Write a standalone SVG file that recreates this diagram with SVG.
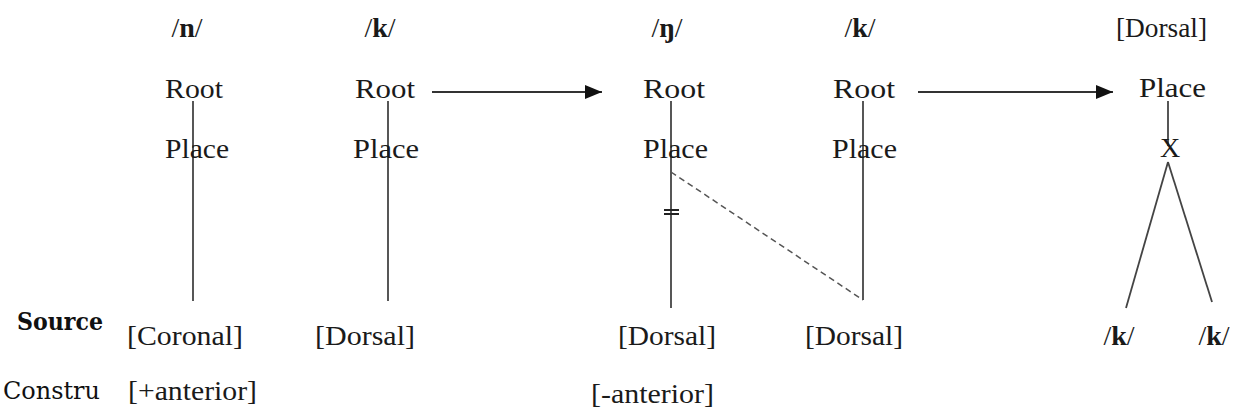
<svg xmlns="http://www.w3.org/2000/svg" width="1234" height="412" viewBox="0 0 1234 412">
  <style>
    .t { font-family: "Liberation Serif", "Times New Roman", serif; font-size: 28px; fill: #1a1a1a; }
    .c { text-anchor: middle; }
    .b { font-weight: bold; }
    .side { font-family: "DejaVu Serif", "Liberation Serif", serif; font-size: 25px; fill: #111; }
    .ln { stroke: #444; stroke-width: 1.8; fill: none; }
    .bar { stroke: #222; stroke-width: 2; fill: none; }
    .dash { stroke: #555; stroke-width: 1.5; stroke-dasharray: 6 4; fill: none; }
    .arr { stroke: #333; stroke-width: 2; fill: none; marker-end: url(#head); }
  </style>
  <defs>
    <marker id="head" markerUnits="userSpaceOnUse" markerWidth="18" markerHeight="16" refX="17" refY="7" orient="auto">
      <path d="M0,0 L17,7 L0,14 Z" fill="#111"/>
    </marker>
  </defs>
  <rect width="1234" height="412" fill="#fff"/>

  <!-- connectors -->
  <g id="connectors">
    <line class="ln" x1="193" y1="101" x2="193" y2="301"/>
    <line class="ln" x1="388" y1="101" x2="388" y2="301"/>
    <line class="ln" x1="671" y1="101" x2="671" y2="308"/>
    <line class="ln" x1="863" y1="101" x2="863" y2="300"/>
    <line class="dash" x1="671" y1="172" x2="863" y2="300"/>
    <!-- delinking mark -->
    <line class="bar" x1="664" y1="210" x2="679" y2="210"/>
    <line class="bar" x1="664" y1="214" x2="679" y2="214"/>
    <line class="ln" x1="1168" y1="101" x2="1168" y2="146"/>
    <line class="ln" x1="1168" y1="162" x2="1126" y2="308"/>
    <line class="ln" x1="1168" y1="162" x2="1212" y2="302"/>
    <line class="arr" x1="432" y1="92" x2="602" y2="92"/>
    <line class="arr" x1="918" y1="92" x2="1113" y2="92"/>
  </g>

  <!-- row labels -->
  <g id="labels">
    <text class="side b" x="17" y="330" textLength="86" lengthAdjust="spacingAndGlyphs">Source</text>
    <text class="side" x="3" y="399" textLength="97" lengthAdjust="spacingAndGlyphs">Constru</text>
  </g>

  <!-- /n/ + /k/ input -->
  <g id="n-seg">
    <text class="t c" x="187" y="37">/<tspan class="b">n</tspan>/</text>
    <text class="t" x="165" y="98" textLength="58" lengthAdjust="spacingAndGlyphs">Root</text>
    <text class="t" x="165" y="158" textLength="64" lengthAdjust="spacingAndGlyphs">Place</text>
    <text class="t" x="127" y="345" textLength="116" lengthAdjust="spacingAndGlyphs">[Coronal]</text>
    <text class="t" x="128" y="400" textLength="129" lengthAdjust="spacingAndGlyphs">[+anterior]</text>
  </g>
  <g id="k-seg-1">
    <text class="t c" x="380" y="37">/<tspan class="b">k</tspan>/</text>
    <text class="t" x="355" y="98" textLength="60" lengthAdjust="spacingAndGlyphs">Root</text>
    <text class="t" x="353" y="158" textLength="66" lengthAdjust="spacingAndGlyphs">Place</text>
    <text class="t" x="315" y="345" textLength="100" lengthAdjust="spacingAndGlyphs">[Dorsal]</text>
  </g>

  <!-- /ŋ/ + /k/ after spreading -->
  <g id="eng-seg">
    <text class="t c" x="667" y="37">/<tspan class="b">ŋ</tspan>/</text>
    <text class="t" x="643" y="98" textLength="62" lengthAdjust="spacingAndGlyphs">Root</text>
    <text class="t" x="643" y="158" textLength="65" lengthAdjust="spacingAndGlyphs">Place</text>
    <text class="t" x="618" y="345" textLength="98" lengthAdjust="spacingAndGlyphs">[Dorsal]</text>
    <text class="t" x="591" y="403" textLength="123" lengthAdjust="spacingAndGlyphs">[-anterior]</text>
  </g>
  <g id="k-seg-2">
    <text class="t c" x="860" y="37">/<tspan class="b">k</tspan>/</text>
    <text class="t" x="833" y="98" textLength="62" lengthAdjust="spacingAndGlyphs">Root</text>
    <text class="t" x="832" y="158" textLength="65" lengthAdjust="spacingAndGlyphs">Place</text>
    <text class="t" x="805" y="345" textLength="98" lengthAdjust="spacingAndGlyphs">[Dorsal]</text>
  </g>

  <!-- shared Dorsal place -->
  <g id="dorsal-shared">
    <text class="t" x="1116" y="37" textLength="91" lengthAdjust="spacingAndGlyphs">[Dorsal]</text>
    <text class="t" x="1139" y="97" textLength="67" lengthAdjust="spacingAndGlyphs">Place</text>
    <text class="t c" x="1170" y="157">X</text>
    <text class="t c" x="1119" y="345">/<tspan class="b">k</tspan>/</text>
    <text class="t c" x="1214" y="345">/<tspan class="b">k</tspan>/</text>
  </g>
</svg>
